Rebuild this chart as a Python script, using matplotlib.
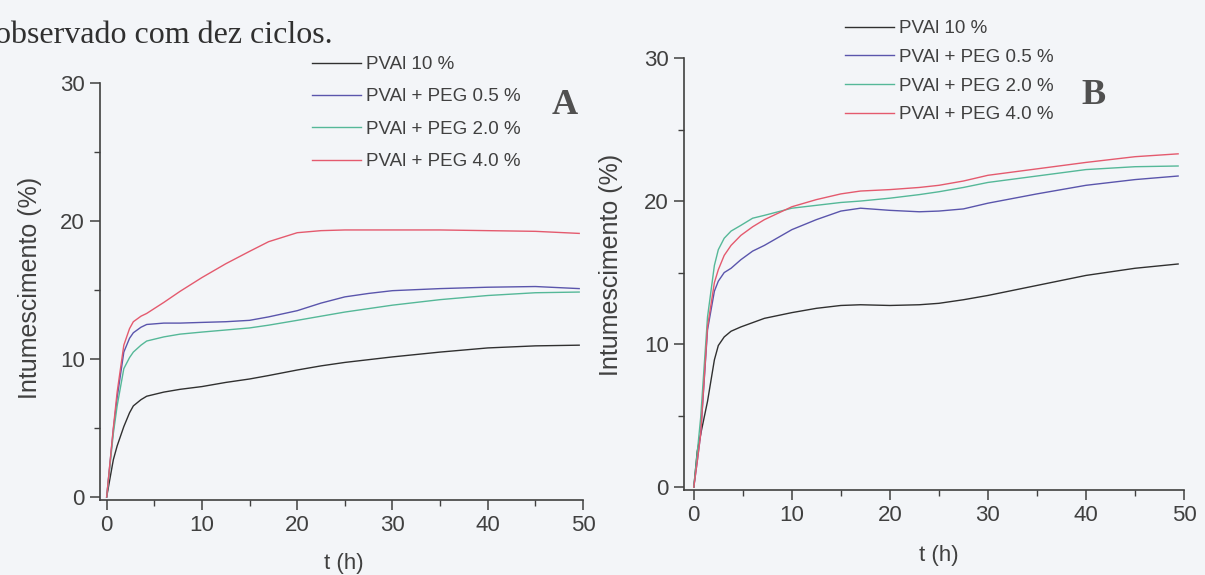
import matplotlib
matplotlib.use("Agg")
import matplotlib.pyplot as plt
from matplotlib.ticker import MultipleLocator

# ---------------- data ----------------
labels = ["PVAl 10 %", "PVAl + PEG 0.5 %", "PVAl + PEG 2.0 %", "PVAl + PEG 4.0 %"]

tA = [0, 0.7, 1.1, 1.8, 2.4, 2.8, 3.6, 4.2, 6, 7.7, 10, 12.5, 15, 17, 20, 22.5, 25, 27.5, 30, 35, 40, 45, 49.6]
a_pval = [0, 2.7, 3.7, 5.1, 6.1, 6.6, 7.05, 7.3, 7.6, 7.8, 8.0, 8.3, 8.55, 8.8, 9.2, 9.5, 9.75, 9.95, 10.15, 10.5, 10.8, 10.95, 11.0]
a_peg05 = [0, 4.9, 7.2, 10.5, 11.5, 11.9, 12.3, 12.5, 12.6, 12.6, 12.65, 12.7, 12.8, 13.05, 13.5, 14.05, 14.5, 14.75, 14.95, 15.1, 15.2, 15.25, 15.1]
a_peg20 = [0, 4.6, 6.6, 9.3, 10.1, 10.5, 11.0, 11.3, 11.6, 11.8, 11.95, 12.1, 12.25, 12.45, 12.8, 13.1, 13.4, 13.65, 13.9, 14.3, 14.6, 14.8, 14.85]
a_peg40 = [0, 5.0, 7.6, 11.0, 12.2, 12.7, 13.1, 13.3, 14.1, 14.9, 15.9, 16.9, 17.8, 18.5, 19.15, 19.3, 19.35, 19.35, 19.35, 19.35, 19.3, 19.25, 19.1]

tB = [0, 0.35, 0.7, 1.4, 2.1, 2.5, 3.1, 3.8, 4.8, 6, 7.2, 10, 12.5, 15, 17, 20, 23, 25, 27.5, 30, 35, 40, 45, 49.4]
b_pval = [0, 2.5, 3.7, 6.0, 8.9, 9.9, 10.5, 10.9, 11.2, 11.5, 11.8, 12.2, 12.5, 12.7, 12.75, 12.7, 12.75, 12.85, 13.1, 13.4, 14.1, 14.8, 15.3, 15.6]
b_peg05 = [0, 1.8, 3.7, 11.0, 13.7, 14.4, 15.0, 15.3, 15.9, 16.5, 16.9, 18.0, 18.7, 19.3, 19.5, 19.35, 19.25, 19.3, 19.45, 19.85, 20.5, 21.1, 21.5, 21.75]
b_peg20 = [0, 2.4, 4.85, 11.9, 15.5, 16.6, 17.4, 17.9, 18.3, 18.8, 19.0, 19.5, 19.7, 19.9, 20.0, 20.2, 20.45, 20.65, 20.95, 21.3, 21.75, 22.2, 22.4, 22.45]
b_peg40 = [0, 1.8, 3.7, 11.2, 14.3, 15.2, 16.2, 16.9, 17.6, 18.2, 18.7, 19.6, 20.1, 20.5, 20.7, 20.8, 20.95, 21.1, 21.4, 21.8, 22.25, 22.7, 23.1, 23.3]

xticks = [0, 10, 20, 30, 40, 50]
yticks = [0, 10, 20, 30]

colors = ["#303030", "#5a55ac", "#55b898", "#e45a6e"]
bg = "#f3f5f8"
ink = "#404040"

W, H = 1205, 575
fig = plt.figure(figsize=(W / 100, H / 100), dpi=100, facecolor=bg)

sans = ["Liberation Sans", "DejaVu Sans"]
serif = ["Liberation Serif", "DejaVu Serif"]


def px_axes(l, t, r, b):
    return fig.add_axes([l / W, 1 - b / H, (r - l) / W, (b - t) / H])


def style(ax, xlim, ylim):
    ax.set_facecolor(bg)
    ax.set_xlim(*xlim)
    ax.set_ylim(*ylim)
    for s in ["top", "right"]:
        ax.spines[s].set_visible(False)
    for s in ["left", "bottom"]:
        ax.spines[s].set_color(ink)
        ax.spines[s].set_linewidth(1.2)
    ax.set_xticks(xticks)
    ax.set_yticks(yticks)
    ax.xaxis.set_minor_locator(MultipleLocator(5))
    ax.yaxis.set_minor_locator(MultipleLocator(5))
    ax.tick_params(which="major", direction="out", length=7, width=1.1, color=ink,
                   labelsize=16, labelcolor=ink, pad=4)
    ax.tick_params(which="minor", direction="out", length=4, width=1.0, color=ink)
    for lab in ax.get_xticklabels() + ax.get_yticklabels():
        lab.set_family(sans)


def panel(ax, t, series, leg_xy, spacing):
    for y, c, lab in zip(series, colors, labels):
        ax.plot(t, y, color=c, lw=1.0, label=lab)
    leg = ax.legend(loc="upper left", bbox_to_anchor=(leg_xy[0] / W, 1 - leg_xy[1] / H),
                    bbox_transform=fig.transFigure, frameon=False, borderpad=0,
                    borderaxespad=0, handlelength=2.6, handletextpad=0.3,
                    labelspacing=spacing, prop={"family": sans, "size": 13.5})
    for txt in leg.get_texts():
        txt.set_color(ink)


axA = px_axes(100, 83, 583, 500)
style(axA, (-0.7, 50), (-0.22, 30))
panel(axA, tA, [a_pval, a_peg05, a_peg20, a_peg40], (312, 56), 0.81)

axB = px_axes(684, 58, 1184, 490)
style(axB, (-1.0, 50), (-0.2, 30))
panel(axB, tB, [b_pval, b_peg05, b_peg20, b_peg40], (845, 20), 0.62)

# axis labels
fig.text(30 / W, 1 - 288 / H, "Intumescimento (%)", rotation=90, ha="center", va="center",
         fontsize=18, color=ink, family=sans)
fig.text(611 / W, 1 - 265 / H, "Intumescimento (%)", rotation=90, ha="center", va="center",
         fontsize=18, color=ink, family=sans)
fig.text(344 / W, 1 - 563 / H, "t (h)", ha="center", va="center", fontsize=16, color=ink, family=sans)
fig.text(939 / W, 1 - 555 / H, "t (h)", ha="center", va="center", fontsize=16, color=ink, family=sans)

# panel letters
fig.text(565 / W, 1 - 106 / H, "A", ha="center", va="center", fontsize=26, fontweight="bold",
         color="#505050", family=serif)
fig.text(1093 / W, 1 - 96 / H, "B", ha="center", va="center", fontsize=26, fontweight="bold",
         color="#505050", family=serif)

# text fragment from page
fig.text(-5 / W, 1 - 43 / H, "observado com dez ciclos.", ha="left", va="baseline", fontsize=23,
         color="#303030", family=serif)

fig.savefig("out.png", dpi=100, facecolor=bg)
